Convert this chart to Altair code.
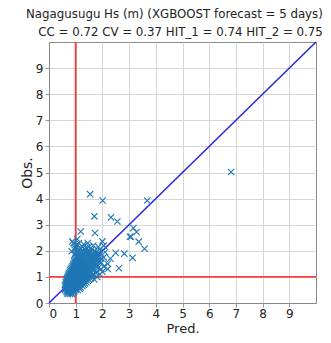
import altair as alt
import pandas as pd

title_lines = ["Nagagusugu Hs (m) (XGBOOST forecast = 5 days)",
               "CC = 0.72 CV = 0.37 HIT_1 = 0.74 HIT_2 = 0.75"]
tick_values = [0, 1, 2, 3, 4, 5, 6, 7, 8, 9]

# dense cluster, row by row (obs level -> predicted values)
obs_levels = [0.35, 0.45, 0.55, 0.65, 0.75, 0.85, 0.95, 1.05, 1.15, 1.25,
              1.35, 1.45, 1.55, 1.65, 1.75, 1.85, 1.95, 2.05, 2.15, 2.30,
              0.40, 0.50, 0.60, 0.70, 0.80, 0.90, 1.00, 1.10, 1.20, 1.30,
              1.40, 1.50, 1.60, 1.70, 1.80, 1.90, 2.00, 2.10, 2.25]
pred_rows = [
    [0.70, 0.78, 0.85],
    [0.65, 0.72, 0.80, 0.88, 0.95],
    [0.62, 0.70, 0.78, 0.86, 0.94, 1.02, 1.15],
    [0.62, 0.70, 0.78, 0.86, 0.94, 1.02, 1.10, 1.25],
    [0.65, 0.72, 0.80, 0.88, 0.96, 1.04, 1.12, 1.20, 1.35],
    [0.66, 0.74, 0.82, 0.90, 0.98, 1.06, 1.14, 1.22, 1.30, 1.45],
    [0.68, 0.76, 0.84, 0.92, 1.00, 1.08, 1.16, 1.24, 1.32, 1.40, 1.55],
    [0.72, 0.80, 0.88, 0.96, 1.04, 1.12, 1.20, 1.28, 1.36, 1.48, 1.62],
    [0.75, 0.84, 0.92, 1.00, 1.08, 1.16, 1.24, 1.32, 1.42, 1.55, 1.75],
    [0.80, 0.88, 0.96, 1.04, 1.12, 1.20, 1.30, 1.40, 1.52, 1.68],
    [0.85, 0.95, 1.04, 1.12, 1.22, 1.32, 1.45, 1.60, 1.85],
    [0.90, 1.00, 1.10, 1.20, 1.30, 1.42, 1.55, 1.72],
    [0.95, 1.05, 1.15, 1.28, 1.40, 1.55, 1.70, 1.95],
    [0.98, 1.10, 1.22, 1.35, 1.50, 1.65, 1.82],
    [1.02, 1.15, 1.30, 1.45, 1.62, 1.80, 2.05],
    [0.95, 1.10, 1.25, 1.42, 1.60, 1.78],
    [1.05, 1.20, 1.38, 1.55, 1.75, 2.10],
    [0.95, 1.15, 1.35, 1.60, 1.90],
    [1.00, 1.25, 1.50, 1.85],
    [0.92, 1.12, 1.45],
    [0.68, 0.76, 0.84, 0.92],
    [0.60, 0.68, 0.76, 0.84, 0.92, 1.00, 1.08],
    [0.66, 0.74, 0.82, 0.90, 0.98, 1.06, 1.18],
    [0.60, 0.68, 0.76, 0.84, 0.92, 1.00, 1.08, 1.16, 1.30],
    [0.62, 0.70, 0.78, 0.86, 0.94, 1.02, 1.10, 1.18, 1.26, 1.40],
    [0.64, 0.72, 0.80, 0.88, 0.96, 1.04, 1.12, 1.20, 1.28, 1.36, 1.50, 1.70],
    [0.70, 0.78, 0.86, 0.94, 1.02, 1.10, 1.18, 1.26, 1.34, 1.44, 1.58, 1.80],
    [0.74, 0.82, 0.90, 0.98, 1.06, 1.14, 1.22, 1.30, 1.38, 1.50, 1.65, 1.90],
    [0.78, 0.86, 0.94, 1.02, 1.10, 1.18, 1.26, 1.36, 1.46, 1.60, 1.78, 2.00],
    [0.82, 0.90, 0.98, 1.08, 1.18, 1.28, 1.38, 1.50, 1.65, 1.95, 2.20],
    [0.88, 0.98, 1.08, 1.16, 1.26, 1.36, 1.50, 1.66, 1.80, 2.05],
    [0.92, 1.02, 1.12, 1.24, 1.36, 1.48, 1.62, 1.78, 2.20],
    [0.96, 1.08, 1.20, 1.32, 1.45, 1.60, 1.76, 1.90],
    [1.00, 1.12, 1.26, 1.40, 1.56, 1.72, 1.95, 2.30],
    [1.05, 1.20, 1.36, 1.52, 1.70, 1.88],
    [1.00, 1.15, 1.30, 1.48, 1.65, 1.85],
    [1.10, 1.28, 1.45, 1.70],
    [0.98, 1.18, 1.40],
    [1.05, 1.30],
]

# scattered points outside the dense cluster
pred_extra = [1.54, 2.01, 3.68, 1.70, 2.32, 2.56, 1.19, 1.72, 3.16, 3.28,
              3.03, 3.07, 0.87, 1.06, 2.00, 3.36, 3.58, 2.82, 3.13, 2.50,
              2.62, 0.85, 1.66, 2.05, 1.49, 6.82]
obs_extra = [4.17, 3.93, 3.93, 3.32, 3.28, 3.12, 2.74, 2.68, 2.87, 2.72,
             2.54, 2.54, 2.36, 2.45, 2.36, 2.35, 2.08, 1.89, 1.73, 1.92,
             1.33, 1.98, 2.20, 2.20, 1.98, 5.02]

rows = []
for ob, preds in zip(obs_levels, pred_rows):
    for p in preds:
        rows.append({"pred": p, "obs": ob})
for p, ob in zip(pred_extra, obs_extra):
    rows.append({"pred": p, "obs": ob})
pts = pd.DataFrame(rows)

# reference lines: diagonal, HIT threshold lines
line_x = [0, 0, 1]
line_y = [0, 1, 0]
line_x2 = [10, 10, 1]
line_y2 = [10, 1, 10]
line_kind = ["diag", "h", "v"]
lines = pd.DataFrame({"x": line_x, "y": line_y, "x2": line_x2, "y2": line_y2, "kind": line_kind})

xscale = alt.Scale(domain=[0, 10], nice=False, zero=False)
yscale = alt.Scale(domain=[0, 10], nice=False, zero=False)

xaxis = alt.Axis(values=tick_values, title="Pred.", grid=True, format="d",
                 titleY=29, titleBaseline="alphabetic", titleFontSize=13,
                 labelPadding=1)
yaxis = alt.Axis(values=tick_values, title="Obs.", grid=True, format="d", titlePadding=1)

rule_layer = alt.Chart(lines).mark_rule().encode(
    x=alt.X("x:Q", scale=xscale, axis=xaxis),
    y=alt.Y("y:Q", scale=yscale, axis=yaxis),
    x2="x2:Q",
    y2="y2:Q",
    color=alt.Color("kind:N", scale=alt.Scale(domain=["diag", "h", "v"],
                                             range=["#2a2ae0", "#ff3b3b", "#ff3b3b"]),
                    legend=None),
    strokeWidth=alt.StrokeWidth("kind:N", scale=alt.Scale(domain=["diag", "h", "v"],
                                                          range=[1.6, 1.8, 1.4]),
                                legend=None),
)

point_layer = alt.Chart(pts).mark_point(
    shape="M-1,-1L1,1M-1,1L1,-1",
    filled=False,
    color="#1f77b4",
    strokeWidth=1.1,
    size=40,
    opacity=1,
).encode(
    x=alt.X("pred:Q", scale=xscale, axis=xaxis),
    y=alt.Y("obs:Q", scale=yscale, axis=yaxis),
)

chart = alt.layer(rule_layer, point_layer).properties(
    width=267,
    height=261,
    title=alt.TitleParams(text=title_lines, font="DejaVu Sans", fontSize=11.8,
                          fontWeight="normal", color="#222", lineHeight=18,
                          anchor="end", align="right", dx=6, offset=2),
    autosize=alt.AutoSizeParams(type="none"),
    padding={"left": 41, "top": 34, "right": 7, "bottom": 32},
    background="white",
).configure_view(
    stroke="#888", strokeWidth=1
).configure_axis(
    labelFont="DejaVu Sans", labelFontSize=12, labelColor="#222",
    titleFont="DejaVu Sans", titleFontSize=14, titleFontWeight="normal", titleColor="#222",
    domainColor="#888", tickColor="#999", tickSize=4, gridColor="#d6d6d6",
    labelPadding=2,
)

chart.save("out.html", embed_options={"renderer": "svg", "actions": False})
